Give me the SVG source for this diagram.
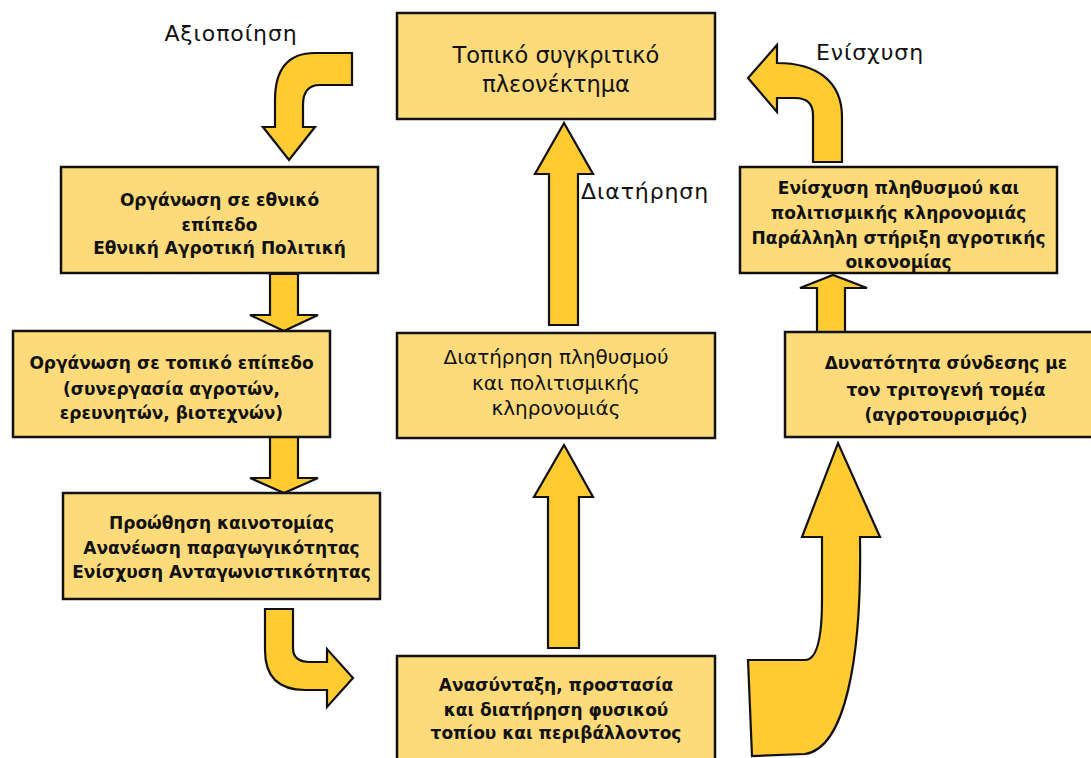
<svg xmlns="http://www.w3.org/2000/svg" width="1091" height="758" viewBox="0 0 1091 758">
<style>
.box{fill:#FDDB7A;stroke:#111;stroke-width:2.5}
.arr{fill:#FECB32;stroke:#111;stroke-width:2.2;stroke-linejoin:miter}
.t{font-family:"DejaVu Sans","Liberation Sans",sans-serif;fill:#111;text-anchor:middle}
.b{font-weight:bold;font-size:17px}
.r{font-size:20px}
.rt{font-size:22.5px}
.lab{font-family:"DejaVu Sans","Liberation Sans",sans-serif;fill:#111;font-size:22px;letter-spacing:0.9px;text-anchor:middle}
</style>
<rect width="1091" height="758" fill="#fff"/>
<g id="connectors">
<path class="arr" d="M352,53 L315,53 Q275,53 275,100 L275,127 L263,127 L289,160 L315,127 L303,127 L303,105 Q303,85 320,85 L352,85 Z"/>
<path class="arr" d="M270,274 L298,274 L298,315 L318,315 L284,331 L250,315 L270,315 Z"/>
<path class="arr" d="M270,437 L298,437 L298,478 L318,478 L284,493 L250,478 L270,478 Z"/>
<path class="arr" d="M265,609 L293,609 L293,648 Q293,662 310,662 L327,662 L327,649 L353,678 L327,707 L327,690 L305,690 Q265,690 265,650 Z"/>
<path class="arr" d="M548,648 L548,497 L534,497 L564,445 L593,497 L579,497 L579,648 Z"/>
<path class="arr" d="M549,325 L549,174 L535,174 L564,123 L593,174 L578,174 L578,325 Z"/>
<path class="arr" d="M817,332 L817,288 L800,288 L833,275 L867,288 L845,288 L845,332 Z"/>
<path class="arr" d="M813,162 L813,115 Q813,98 795,98 L777,98 L777,112 L748,78 L777,45 L777,63 C815,63 842,80 842,117 L842,162 Z"/>
<path class="arr" d="M860,537 L880,537 L838,443 L802,537 L822,537 L822,600 Q822,660 805,660 L748,660 L752,756 L805,754 C845,748 862,660 860,537 Z"/>
</g>
<g id="n-top"><rect class="box" x="397" y="13" width="318" height="106"/>
<text class="t rt" x="556" y="63">Τοπικό συγκριτικό</text><text class="t rt" x="556" y="92">πλεονέκτημα</text></g>
<g id="n-national"><rect class="box" x="61" y="167" width="317" height="106"/>
<text class="t b" x="219.5" y="206">Οργάνωση σε εθνικό</text><text class="t b" x="219.5" y="231">επίπεδο</text><text class="t b" x="219.5" y="254">Εθνική Αγροτική Πολιτική</text></g>
<g id="n-local"><rect class="box" x="13" y="331" width="317" height="106"/>
<text class="t b" x="171.5" y="369">Οργάνωση σε τοπικό επίπεδο</text><text class="t b" x="171.5" y="395">(συνεργασία αγροτών,</text><text class="t b" x="171.5" y="419">ερευνητών, βιοτεχνών)</text></g>
<g id="n-innov"><rect class="box" x="63" y="493" width="317" height="106"/>
<text class="t b" x="221.5" y="529">Προώθηση καινοτομίας</text><text class="t b" x="221.5" y="554">Ανανέωση παραγωγικότητας</text><text class="t b" x="221.5" y="578">Ενίσχυση Ανταγωνιστικότητας</text></g>
<g id="n-maintain"><rect class="box" x="397" y="333" width="318" height="105"/>
<text class="t r" x="556" y="364">Διατήρηση πληθυσμού</text><text class="t r" x="556" y="390">και πολιτισμικής</text><text class="t r" x="556" y="415">κληρονομιάς</text></g>
<g id="n-env"><rect class="box" x="397" y="656" width="318" height="110"/>
<text class="t b" x="556" y="691">Ανασύνταξη, προστασία</text><text class="t b" x="556" y="716">και διατήρηση φυσικού</text><text class="t b" x="556" y="739">τοπίου και περιβάλλοντος</text></g>
<g id="n-strength"><rect class="box" x="740" y="167" width="317" height="106"/>
<text class="t b" x="898.5" y="194">Ενίσχυση πληθυσμού και</text><text class="t b" x="898.5" y="219">πολιτισμικής κληρονομιάς</text><text class="t b" x="898.5" y="244">Παράλληλη στήριξη αγροτικής</text><text class="t b" x="898.5" y="268">οικονομίας</text></g>
<g id="n-tourism"><rect class="box" x="785" y="332" width="318" height="105"/>
<text class="t b" x="946" y="369">Δυνατότητα σύνδεσης με</text><text class="t b" x="946" y="396">τον τριτογενή τομέα</text><text class="t b" x="946" y="421">(αγροτουρισμός)</text></g>
<g id="labels">
<text class="lab" x="231" y="41">Αξιοποίηση</text>
<text class="lab" x="645" y="199">Διατήρηση</text>
<text class="lab" x="870" y="60">Ενίσχυση</text>
</g>
</svg>
